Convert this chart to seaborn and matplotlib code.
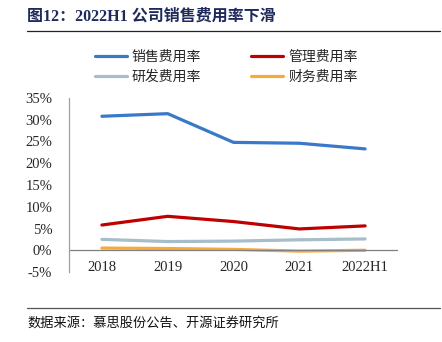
import matplotlib
matplotlib.use("Agg")
import matplotlib.pyplot as plt
import seaborn as sns
import pandas as pd
from matplotlib.lines import Line2D

years = ["2018", "2019", "2020", "2021", "2022H1"]
sales = [30.8, 31.4, 24.8, 24.6, 23.3]
admin = [5.8, 7.8, 6.6, 4.9, 5.6]
rnd = [2.5, 2.0, 2.1, 2.4, 2.6]
fin = [0.5, 0.4, 0.2, -0.2, 0.0]
names = ["销售费用率", "管理费用率", "研发费用率", "财务费用率"]
colors = ["#3a78c9", "#c00000", "#a6bdca", "#f7a93a"]
yticks = [-5, 0, 5, 10, 15, 20, 25, 30, 35]

sns.set_theme(style="white")
plt.rcParams['font.family'] = ['Noto Sans CJK SC', 'DejaVu Sans']

df = pd.DataFrame({"year": years * 4,
                   "value": sales + admin + rnd + fin,
                   "series": sum([[n] * 5 for n in names], [])})
df["x"] = list(range(5)) * 4

fig = plt.figure(figsize=(4.42, 3.42), dpi=100)
ax = fig.add_axes([69/442, 1 - 272/342, (398-69)/442, (272-98)/342])

sns.lineplot(data=df, x="x", y="value", hue="series", hue_order=names,
             palette=colors, linewidth=2.3, ax=ax, legend=False)

ax.set_xlim(-0.5, 4.5)
ax.set_ylim(-5, 35)
ax.set_yticks(yticks)
ax.set_yticklabels([f"{v}%" for v in yticks], family="Liberation Serif", fontsize=10.5)
ax.set_xticks([0.5, 1.5, 2.5, 3.5, 4.5])
ax.set_xticklabels([])
ax.tick_params(axis="x", direction="in", length=4, color="#808080", width=0.8)
ax.tick_params(axis="y", direction="in", length=4, color="#808080", width=0.8, pad=12)
for i, y in enumerate(years):
    ax.text(i, -3.9, y, ha="center", va="center", family="Liberation Serif", fontsize=10.5,
            transform=ax.transData)
ax.axhline(0, color="#808080", lw=0.9)
for s in ["top", "right", "bottom"]:
    ax.spines[s].set_visible(False)
ax.spines["left"].set_color("#a0a0a0")
ax.spines["left"].set_linewidth(0.9)
ax.set_xlabel("")
ax.set_ylabel("")
ax.grid(False)

# legend (row-wise order: 销售, 管理 / 研发, 财务)
order = [0, 2, 1, 3]
handles = [Line2D([0], [0], color=colors[i], lw=2.3) for i in order]
labels = [names[i] for i in order]
fig.legend(handles, labels, ncol=2, loc="center", bbox_to_anchor=(0.512, 1 - 67/342),
           frameon=False, fontsize=10, handlelength=2.3, columnspacing=3.6,
           handletextpad=0.35, labelspacing=0.45)

fig.text(27/442, 1 - 17/342, "图12：2022H1 公司销售费用率下滑", fontsize=11.5, fontweight="bold",
         family=['Liberation Serif', 'Noto Sans CJK SC'],
         color="#1f2a5c", va="center", ha="left")
fig.add_artist(Line2D([27/442, 440/442], [1 - 31/342, 1 - 31/342], color="#222222", lw=0.9))
fig.add_artist(Line2D([27/442, 440/442], [1 - 308/342, 1 - 308/342], color="#555555", lw=0.9))
fig.text(27/442, 1 - 323/342, "数据来源：慕思股份公告、开源证券研究所", fontsize=9.5,
         color="#111111", va="center", ha="left")

fig.savefig("out.png", dpi=100, facecolor="white")
